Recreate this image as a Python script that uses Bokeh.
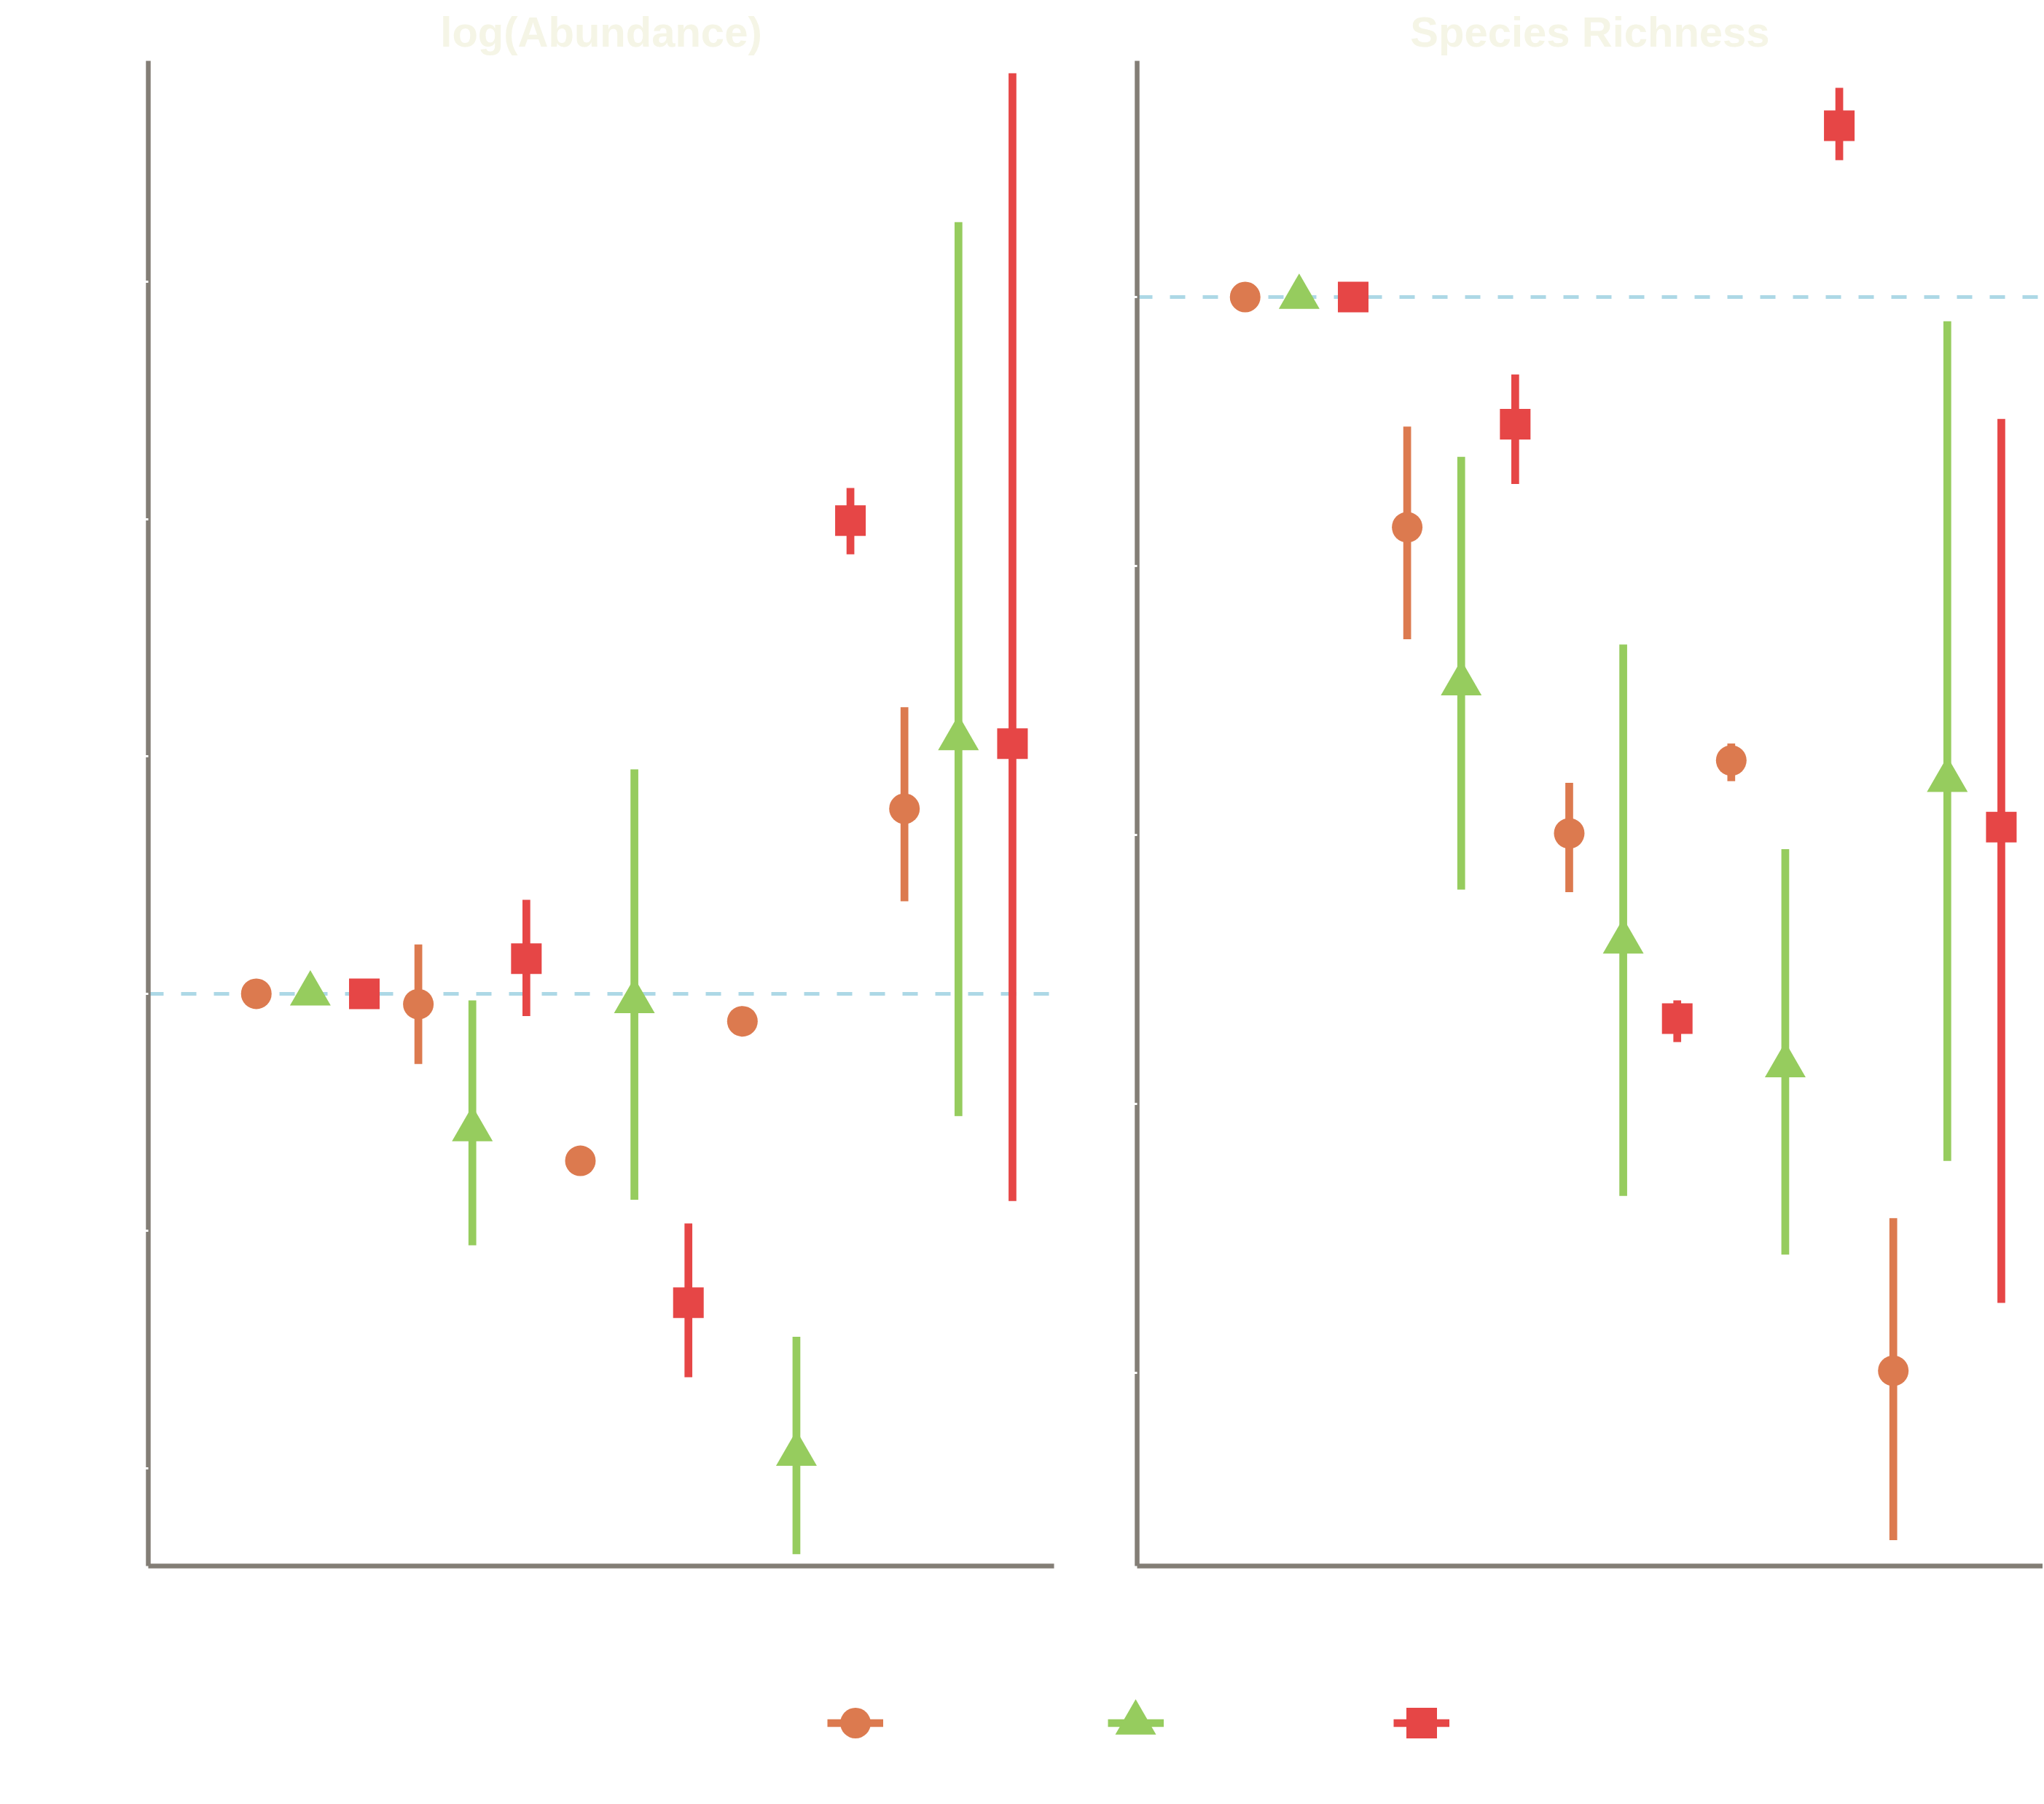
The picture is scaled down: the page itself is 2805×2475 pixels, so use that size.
import numpy as np
from bokeh.plotting import figure
from bokeh.models import Span, Legend, LegendItem, FixedTicker, Range1d
from bokeh.layouts import column, row
from bokeh.embed import file_html
from bokeh.resources import INLINE

# ---------------- data ----------------
land_use = ["Primary", "Secondary", "Plantation", "Cropland", "Pasture"]
intensity = ["Minimal use", "Light use", "Intense use"]

# log(Abundance): mean, lower and upper limits per land use
abund_minimal = [0.0, -0.022, -0.352, -0.058, 0.390]
abund_minimal_lo = [0.0, -0.148, -0.367, -0.073, 0.195]
abund_minimal_hi = [0.0, 0.104, -0.337, -0.043, 0.604]
abund_light = [0.0, -0.286, -0.016, -0.970, 0.538]
abund_light_lo = [0.0, -0.530, -0.434, -1.181, -0.258]
abund_light_hi = [0.0, -0.014, 0.473, -0.723, 1.626]
abund_intense = [0.0, 0.074, -0.651, 0.997, 0.527]
abund_intense_lo = [0.0, -0.047, -0.808, 0.926, -0.437]
abund_intense_hi = [0.0, 0.198, -0.484, 1.066, 1.940]

# Species Richness
rich_minimal = [0.0, -0.856, -1.994, -1.723, -3.992]
rich_minimal_lo = [0.0, -1.272, -2.213, -1.800, -4.622]
rich_minimal_hi = [0.0, -0.482, -1.806, -1.660, -3.425]
rich_light = [0.0, -1.437, -2.397, -2.857, -1.796]
rich_light_lo = [0.0, -2.203, -3.342, -3.560, -3.212]
rich_light_hi = [0.0, -0.594, -1.292, -2.053, -0.090]
rich_intense = [0.0, -0.473, -2.683, 0.637, -1.971]
rich_intense_lo = [0.0, -0.695, -2.770, 0.509, -3.740]
rich_intense_hi = [0.0, -0.288, -2.615, 0.778, -0.453]

abund_ticks = [-1.0, -0.5, 0.0, 0.5, 1.0, 1.5]
rich_ticks = [-4, -3, -2, -1, 0]

# ---------------- style ----------------
COLORS = ["#DC7A4F", "#96CC5E", "#E64646"]
MARKERS = ["circle", "triangle", "square"]
SIZES = [42, 56, 42]
DODGE = [-1 / 3, 0.0, 1 / 3]
AXIS_COLOR = "#837E76"
TITLE_COLOR = "#F5F5E6"
FONT = "Liberation Sans"
PANEL_H = 2240


def make_panel(title, series, ticks, y_range, x_end, width, border_left, border_right):
    p = figure(width=width, height=PANEL_H, output_backend="svg", toolbar_location=None,
               x_range=Range1d(0, x_end), y_range=Range1d(*y_range),
               min_border_left=border_left, min_border_right=border_right,
               min_border_top=83, min_border_bottom=92,
               background_fill_color="white", border_fill_color="white",
               outline_line_color=None)
    p.grid.visible = False
    p.title.text = title
    p.title.align = "center"
    p.title.text_font = FONT
    p.title.text_font_style = "bold"
    p.title.text_font_size = "58px"
    p.title.text_color = TITLE_COLOR
    p.title.standoff = 16

    for ax in (p.xaxis[0], p.yaxis[0]):
        ax.axis_line_color = AXIS_COLOR
        ax.axis_line_width = 6.5
        ax.minor_tick_line_color = None
        ax.major_label_text_color = "white"
        ax.major_label_text_font = FONT
        ax.major_label_text_font_size = "30px"
    p.yaxis.ticker = FixedTicker(ticks=ticks)
    p.yaxis.major_tick_line_color = "white"
    p.yaxis.major_tick_line_width = 3
    p.yaxis.major_tick_out = 4
    p.yaxis.major_tick_in = 0
    p.xaxis.ticker = FixedTicker(ticks=list(range(1, len(land_use) + 1)))
    p.xaxis.major_label_overrides = {i + 1: name for i, name in enumerate(land_use)}
    p.xaxis.major_tick_line_color = None

    zero = Span(location=0, dimension="width", line_color="#ADD8E6", line_width=5,
                line_dash="21 24", level="underlay")
    p.add_layout(zero)

    for k, (mean, lo, hi) in enumerate(series):
        xs = [i + 1 + DODGE[k] for i in range(len(mean))]
        p.segment(x0=xs, y0=lo, x1=xs, y1=hi, line_color=COLORS[k], line_width=10.7)
        p.scatter(x=xs, y=mean, marker=MARKERS[k], size=SIZES[k],
                  fill_color=COLORS[k], line_color=None)
    return p


p1 = make_panel("log(Abundance)",
                [(abund_minimal, abund_minimal_lo, abund_minimal_hi),
                 (abund_light, abund_light_lo, abund_light_hi),
                 (abund_intense, abund_intense_lo, abund_intense_hi)],
                abund_ticks, (-1.206, 1.966), 5.59, 1501, 203, 55)
p2 = make_panel("Species Richness",
                [(rich_minimal, rich_minimal_lo, rich_minimal_hi),
                 (rich_light, rich_light_lo, rich_light_hi),
                 (rich_intense, rich_intense_lo, rich_intense_hi)],
                rich_ticks, (-4.718, 0.878), 5.59, 1302, 59, 0)

# ---------------- legend strip ----------------
LEG_H = 230
p3 = figure(width=2803, height=LEG_H, output_backend="svg", toolbar_location=None,
            x_range=Range1d(0, 1), y_range=Range1d(0, 1),
            x_axis_type=None, y_axis_type=None, min_border=0,
            outline_line_color=None, background_fill_color="white",
            border_fill_color="white")
p3.grid.visible = False

KEY_X = [1173, 1558, 1950]
KEY_Y = LEG_H - (2363 - PANEL_H)
LINE_W, LINE_H = 77, 43
nan = np.array([np.nan])
for k in range(3):
    lr = p3.line(x=nan, y=nan, line_color=COLORS[k], line_width=10.7)
    mr = p3.scatter(x=nan, y=nan, marker=MARKERS[k], size=SIZES[k],
                    fill_color=COLORS[k], line_color=None)
    box = SIZES[k] / 0.4
    common = dict(padding=0, margin=0, spacing=0, border_line_color=None,
                  background_fill_alpha=0, label_text_color="white",
                  label_text_font=FONT, label_text_font_size="30px",
                  label_standoff=12)
    leg_line = Legend(items=[LegendItem(label=intensity[k], renderers=[lr])],
                      location=(KEY_X[k] - LINE_W / 2, KEY_Y - LINE_H / 2),
                      glyph_width=LINE_W, glyph_height=LINE_H, label_height=LINE_H,
                      **common)
    leg_mark = Legend(items=[LegendItem(label=" ", renderers=[mr])],
                      location=(KEY_X[k] - box / 2, KEY_Y - box / 2),
                      glyph_width=int(box), glyph_height=int(box), label_height=int(box),
                      **common)
    p3.add_layout(leg_line)
    p3.add_layout(leg_mark)

layout = column(row(p1, p2), p3)
open("out.html", "w").write(file_html(layout, INLINE))
